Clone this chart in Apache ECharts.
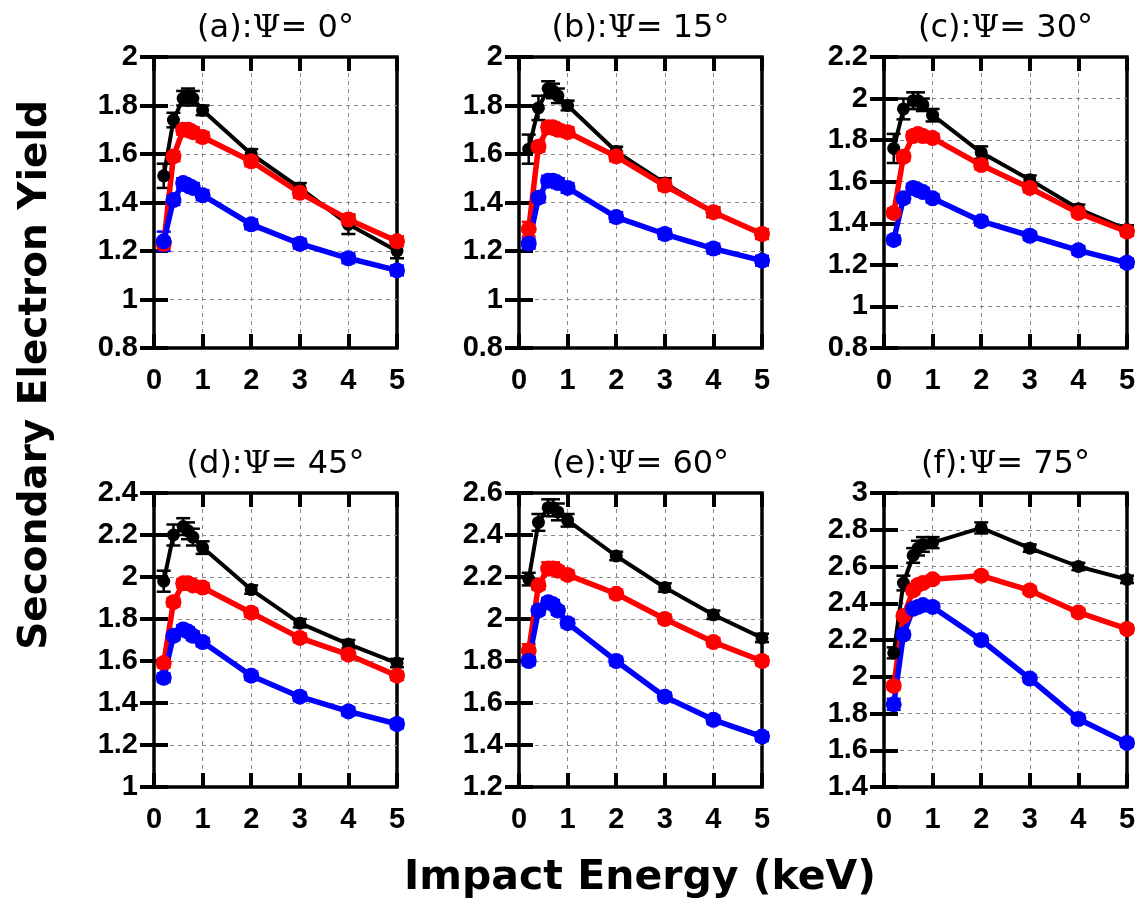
<!DOCTYPE html>
<html>
<head>
<meta charset="utf-8">
<script src="https://cdn.jsdelivr.net/npm/echarts@6/dist/echarts.min.js"></script>
<style>
html,body{margin:0;padding:0;background:#fff;}
#chart{width:1139px;height:907px;}
</style>
</head>
<body>
<div id="chart"></div>
<script>
// Impact energies (keV)
const energies = [0.2, 0.4, 0.6, 0.7, 0.8, 1, 2, 3, 4, 5];
const xTicks = [0, 1, 2, 3, 4, 5];
const panelLetters = ['a', 'b', 'c', 'd', 'e', 'f'];
const psiAngles = [0, 15, 30, 45, 60, 75];
const yMins = [0.8, 0.8, 0.8, 1.0, 1.2, 1.4];
const yMaxs = [2.0, 2.0, 2.2, 2.4, 2.6, 3.0];

// (a) Psi = 0
const blackA = [1.51, 1.74, 1.83, 1.84, 1.83, 1.78, 1.60, 1.46, 1.31, 1.20];
const redA   = [1.23, 1.59, 1.70, 1.70, 1.69, 1.67, 1.57, 1.44, 1.33, 1.24];
const blueA  = [1.24, 1.41, 1.48, 1.47, 1.46, 1.43, 1.31, 1.23, 1.17, 1.12];
// (b) Psi = 15
const blackB = [1.62, 1.79, 1.87, 1.86, 1.84, 1.80, 1.61, 1.48, 1.36, 1.27];
const redB   = [1.29, 1.63, 1.71, 1.71, 1.70, 1.69, 1.59, 1.47, 1.36, 1.27];
const blueB  = [1.23, 1.42, 1.49, 1.49, 1.48, 1.46, 1.34, 1.27, 1.21, 1.16];
// (c) Psi = 30
const blackC = [1.76, 1.95, 1.99, 1.99, 1.97, 1.92, 1.74, 1.61, 1.47, 1.37];
const redC   = [1.45, 1.72, 1.82, 1.83, 1.82, 1.81, 1.68, 1.57, 1.45, 1.36];
const blueC  = [1.32, 1.52, 1.57, 1.56, 1.55, 1.52, 1.41, 1.34, 1.27, 1.21];
// (d) Psi = 45
const blackD = [1.98, 2.20, 2.24, 2.22, 2.19, 2.14, 1.94, 1.78, 1.68, 1.59];
const redD   = [1.59, 1.88, 1.97, 1.97, 1.96, 1.95, 1.83, 1.71, 1.63, 1.53];
const blueD  = [1.52, 1.72, 1.75, 1.74, 1.72, 1.69, 1.53, 1.43, 1.36, 1.30];
// (e) Psi = 60
const blackE = [2.19, 2.46, 2.53, 2.53, 2.51, 2.47, 2.30, 2.15, 2.02, 1.91];
const redE   = [1.85, 2.16, 2.24, 2.24, 2.23, 2.21, 2.12, 2.00, 1.89, 1.80];
const blueE  = [1.80, 2.04, 2.08, 2.07, 2.04, 1.98, 1.80, 1.63, 1.52, 1.44];
// (f) Psi = 75
const blackF = [2.13, 2.51, 2.66, 2.70, 2.72, 2.73, 2.81, 2.70, 2.60, 2.53];
const redF   = [1.95, 2.33, 2.47, 2.50, 2.51, 2.53, 2.55, 2.47, 2.35, 2.26];
const blueF  = [1.85, 2.23, 2.37, 2.38, 2.39, 2.38, 2.20, 1.99, 1.77, 1.64];

// error bar half-widths
const errBlackA = [0.05, 0.03, 0.03, 0.03, 0.03, 0.02, 0.02, 0.02, 0.04, 0.03];
const errBlackB = [0.06, 0.05, 0.03, 0.03, 0.03, 0.02, 0.02, 0.02, 0.02, 0.02];
const errBlackC = [0.07, 0.05, 0.04, 0.04, 0.03, 0.03, 0.03, 0.02, 0.02, 0.02];
const errBlackD = [0.05, 0.05, 0.04, 0.04, 0.04, 0.03, 0.02, 0.02, 0.02, 0.02];
const errBlackE = [0.03, 0.04, 0.04, 0.04, 0.04, 0.03, 0.02, 0.02, 0.02, 0.02];
const errBlackF = [0.03, 0.04, 0.04, 0.04, 0.04, 0.03, 0.03, 0.02, 0.02, 0.02];
const errRedA = [0.02, 0.02, 0.02, 0.02, 0.02, 0.02, 0.02, 0.02, 0.02, 0.02];
const errRedB = [0.03, 0.02, 0.02, 0.02, 0.02, 0.02, 0.02, 0.02, 0.02, 0.02];
const errRedC = [0.02, 0.02, 0.02, 0.02, 0.02, 0.02, 0.02, 0.02, 0.02, 0.02];
const errRedD = [0.02, 0.02, 0.02, 0.02, 0.02, 0.02, 0.02, 0.02, 0.02, 0.02];
const errRedE = [0.03, 0.02, 0.03, 0.03, 0.02, 0.02, 0.02, 0.02, 0.02, 0.02];
const errRedF = [0.02, 0.02, 0.02, 0.02, 0.02, 0.02, 0.02, 0.02, 0.02, 0.02];
const errBlueA = [0.04, 0.02, 0.02, 0.02, 0.02, 0.02, 0.02, 0.02, 0.02, 0.02];
const errBlueB = [0.02, 0.02, 0.02, 0.02, 0.02, 0.02, 0.02, 0.02, 0.02, 0.02];
const errBlueC = [0.02, 0.02, 0.02, 0.02, 0.02, 0.02, 0.02, 0.02, 0.02, 0.02];
const errBlueD = [0.02, 0.02, 0.02, 0.02, 0.02, 0.02, 0.02, 0.02, 0.02, 0.02];
const errBlueE = [0.02, 0.02, 0.02, 0.02, 0.02, 0.02, 0.02, 0.02, 0.02, 0.02];
const errBlueF = [0.03, 0.02, 0.02, 0.02, 0.02, 0.02, 0.02, 0.02, 0.02, 0.02];

const panelData = [
  [[blackA, errBlackA], [redA, errRedA], [blueA, errBlueA]],
  [[blackB, errBlackB], [redB, errRedB], [blueB, errBlueB]],
  [[blackC, errBlackC], [redC, errRedC], [blueC, errBlueC]],
  [[blackD, errBlackD], [redD, errRedD], [blueD, errBlueD]],
  [[blackE, errBlackE], [redE, errRedE], [blueE, errBlueE]],
  [[blackF, errBlackF], [redF, errRedF], [blueF, errBlueF]]
];

// styling / layout
const colors = ['#000000', '#ff0000', '#0000ff'];
const lineWidths = [4, 5.5, 5.5];
const symbolSizes = [13, 16, 16];
const layout = [[154, 57, 291], [519, 57, 291], [884, 57, 291],
                [154, 493, 294], [519, 493, 294], [884, 493, 294]];
const gridW = 243;

const chart = echarts.init(document.getElementById('chart'), null, {renderer: 'canvas'});

const grids = [], xAxes = [], yAxes = [], series = [], graphics = [];
const labelFont = {fontFamily: '"Liberation Sans", Arial, sans-serif', fontWeight: 'bold', fontSize: 29, color: '#000'};
const tickStyle = {show: true, inside: true, length: 14, lineStyle: {color: '#000', width: 4}};
const splitStyle = {show: true, showMinLine: false, showMaxLine: false, lineStyle: {color: '#8a8a8a', width: 1, type: [4, 4]}};

layout.forEach((p, g) => {
  grids.push({left: p[0], top: p[1], width: gridW, height: p[2], show: true,
    borderColor: '#000', borderWidth: 3.5, backgroundColor: 'rgba(0,0,0,0)'});
  xAxes.push({type: 'value', gridIndex: g, position: 'bottom', min: xTicks[0], max: xTicks[xTicks.length - 1], interval: 1,
    axisLine: {show: false}, axisTick: tickStyle,
    axisLabel: Object.assign({margin: 18}, labelFont), splitLine: splitStyle});
  xAxes.push({type: 'value', gridIndex: g, position: 'top', min: xTicks[0], max: xTicks[xTicks.length - 1], interval: 1,
    axisLine: {show: false}, axisTick: tickStyle, axisLabel: {show: false}, splitLine: {show: false}});
  yAxes.push({type: 'value', gridIndex: g, position: 'left', min: yMins[g], max: yMaxs[g], interval: 0.2,
    axisLine: {show: false}, axisTick: tickStyle,
    axisLabel: Object.assign({margin: 16, formatter: v => String(+v.toFixed(1))}, labelFont),
    splitLine: splitStyle});
  yAxes.push({type: 'value', gridIndex: g, position: 'right', min: yMins[g], max: yMaxs[g], interval: 0.2,
    axisLine: {show: false}, axisTick: tickStyle, axisLabel: {show: false}, splitLine: {show: false}});

  panelData[g].forEach((pair, s) => {
    const vals = pair[0], errs = pair[1];
    const col = colors[s];
    series.push({
      type: 'custom', xAxisIndex: 2 * g, yAxisIndex: 2 * g, clip: false, silent: true,
      data: energies.map((x, i) => [x, vals[i] - errs[i], vals[i] + errs[i]]),
      encode: {x: 0, y: [1, 2]},
      renderItem: function (params, api) {
        const x = api.value(0);
        const lo = api.coord([x, api.value(1)]);
        const hi = api.coord([x, api.value(2)]);
        const hw = 7;
        const st = {stroke: col, lineWidth: 2.5};
        return {type: 'group', children: [
          {type: 'line', shape: {x1: lo[0], y1: lo[1], x2: hi[0], y2: hi[1]}, style: st},
          {type: 'line', shape: {x1: lo[0] - hw, y1: lo[1], x2: lo[0] + hw, y2: lo[1]}, style: st},
          {type: 'line', shape: {x1: hi[0] - hw, y1: hi[1], x2: hi[0] + hw, y2: hi[1]}, style: st}
        ]};
      }
    });
    series.push({
      type: 'line', xAxisIndex: 2 * g, yAxisIndex: 2 * g, clip: false,
      data: energies.map((x, i) => [x, vals[i]]),
      symbol: 'circle', symbolSize: symbolSizes[s], showSymbol: true,
      lineStyle: {color: col, width: lineWidths[s]},
      itemStyle: {color: col},
      emphasis: {disabled: true}
    });
  });

  graphics.push({
    type: 'text', x: p[0] + gridW / 2, y: p[1] - 28,
    style: {
      text: '{n|(' + panelLetters[g] + '):}{s|Ψ}{n|= ' + psiAngles[g] + '°}',
      align: 'center', verticalAlign: 'middle',
      rich: {
        n: {fontFamily: '"DejaVu Sans", sans-serif', fontSize: 32, fill: '#000', color: '#000'},
        s: {fontFamily: '"DejaVu Serif", serif', fontSize: 32, fill: '#000', color: '#000'}
      }
    }
  });
});

graphics.push({
  type: 'text', x: 36, y: 375, rotation: Math.PI / 2,
  style: {text: 'Secondary Electron Yield', align: 'center', verticalAlign: 'middle',
    font: 'bold 39px "DejaVu Sans", sans-serif', fill: '#000'}
});
graphics.push({
  type: 'text', x: 640, y: 878,
  style: {text: 'Impact Energy (keV)', align: 'center', verticalAlign: 'middle',
    font: 'bold 41px "DejaVu Sans", sans-serif', fill: '#000'}
});

chart.setOption({
  animation: false,
  backgroundColor: '#ffffff',
  grid: grids,
  xAxis: xAxes,
  yAxis: yAxes,
  series: series,
  graphic: graphics
});
</script>
</body>
</html>
